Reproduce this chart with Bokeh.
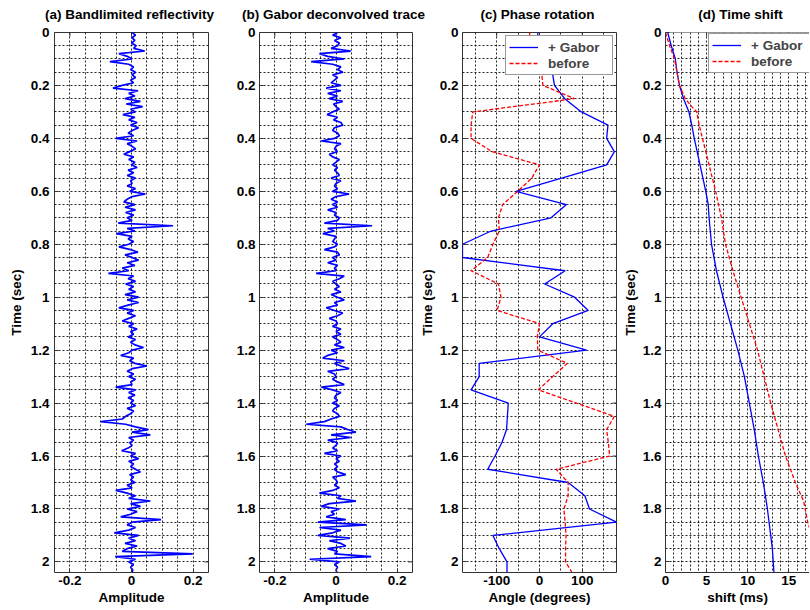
import numpy as np
from bokeh.plotting import figure
from bokeh.layouts import row, column
from bokeh.models import (Range1d, FixedTicker, SingleIntervalTicker, NumeralTickFormatter,
                          Legend, LegendItem, Label, Span)
from bokeh.embed import file_html
from bokeh.resources import INLINE

# ---------------- data ----------------
# (a) band-limited reflectivity, sampled every 0.01 s from 0 to 2.04 s
trace_time = np.round(np.arange(205) * 0.01, 2)
refl_a = [
    0.002, 0.013, 0.002, 0.011, 0.000, 0.015, 0.007, 0.043, -0.041, -0.014,
    0.002, -0.070, -0.009, 0.007, -0.003, 0.013, 0.002, 0.013, -0.003, 0.007,
    -0.030, -0.060, 0.021, -0.009, 0.011, -0.021, 0.029, -0.017, 0.036, -0.003,
    0.013, -0.028, 0.011, -0.009, 0.018, -0.003, 0.023, 0.002, -0.011, 0.007,
    -0.051, 0.018, -0.014, 0.002, 0.013, -0.006, -0.025, 0.007, -0.009, 0.011,
    0.000, 0.018, -0.011, 0.007, -0.014, 0.013, -0.003, 0.002, -0.014, 0.013,
    -0.006, 0.045, 0.002, -0.014, -0.025, 0.011, -0.021, 0.013, -0.019, 0.007,
    -0.014, 0.002, -0.043, 0.135, -0.014, 0.011, -0.049, 0.002, -0.011, 0.007,
    -0.009, -0.041, -0.003, 0.021, -0.021, 0.002, 0.023, -0.014, 0.011, -0.030,
    -0.009, -0.075, 0.007, -0.011, 0.013, -0.019, 0.007, -0.009, 0.013, -0.021,
    0.023, -0.014, 0.023, -0.011, -0.041, 0.007, -0.014, 0.013, -0.009, -0.030,
    0.007, -0.009, 0.018, -0.003, 0.007, -0.011, 0.013, -0.003, 0.011, 0.039,
    0.002, -0.009, -0.035, 0.007, -0.006, 0.011, 0.050, 0.002, -0.014, 0.007,
    -0.009, 0.013, -0.003, 0.002, -0.051, 0.013, -0.009, 0.011, -0.011, 0.007,
    -0.003, 0.013, -0.014, 0.007, -0.003, -0.019, -0.030, -0.099, -0.019, 0.013,
    0.055, 0.002, 0.061, -0.009, 0.007, -0.006, 0.002, -0.011, -0.032, 0.013,
    -0.003, 0.023, -0.009, 0.007, -0.003, 0.013, 0.029, -0.006, 0.007, -0.003,
    0.011, -0.014, 0.002, -0.051, -0.014, 0.013, -0.009, 0.061, -0.003, 0.029,
    -0.014, 0.018, -0.003, -0.035, 0.096, 0.002, -0.014, 0.013, -0.009, -0.056,
    0.023, -0.009, 0.013, -0.021, 0.018, -0.014, -0.030, 0.199, -0.053, 0.013,
    -0.009, 0.007, -0.003, 0.004, 0.002,
]
# (b) Gabor deconvolved trace
decon_b = [
    0.005, -0.011, 0.016, -0.005, 0.011, 0.005, -0.016, 0.048, -0.054, -0.027,
    0.027, -0.081, -0.011, 0.016, 0.005, 0.022, -0.011, 0.005, -0.005, -0.016,
    0.016, -0.032, 0.016, -0.027, 0.005, -0.022, 0.022, -0.008, 0.000, 0.011,
    -0.011, -0.029, 0.005, -0.008, 0.016, 0.022, -0.005, -0.011, 0.005, 0.011,
    -0.005, -0.048, 0.016, 0.000, -0.005, 0.005, -0.022, -0.011, 0.011, 0.000,
    -0.011, 0.005, -0.005, 0.005, 0.011, -0.016, 0.016, 0.000, -0.005, 0.005,
    -0.011, 0.043, 0.000, -0.016, 0.005, -0.011, 0.005, -0.027, 0.000, -0.005,
    0.011, 0.005, -0.038, 0.118, -0.027, -0.005, -0.043, 0.000, -0.005, -0.011,
    0.005, -0.005, -0.038, 0.005, 0.011, -0.011, 0.000, -0.027, 0.005, -0.005,
    0.000, -0.065, 0.027, 0.011, -0.011, 0.000, 0.011, -0.005, 0.016, -0.016,
    0.005, 0.027, -0.005, 0.005, -0.032, -0.005, 0.022, 0.005, -0.022, 0.000,
    0.005, -0.011, 0.016, 0.000, 0.016, -0.011, 0.005, 0.016, -0.005, 0.027,
    -0.016, 0.005, -0.027, -0.043, 0.027, -0.005, 0.016, 0.043, -0.027, -0.005,
    0.000, -0.011, 0.005, 0.027, -0.048, -0.011, 0.016, 0.000, -0.005, 0.005,
    -0.011, 0.011, -0.005, -0.011, 0.005, 0.011, -0.016, -0.038, -0.097, 0.016,
    0.038, 0.065, -0.016, 0.048, -0.027, 0.005, 0.000, -0.011, 0.005, -0.038,
    0.016, 0.000, 0.011, -0.005, 0.005, -0.005, 0.005, 0.032, -0.011, 0.000,
    0.005, -0.005, 0.011, -0.011, -0.054, 0.016, 0.005, 0.065, -0.022, -0.048,
    0.011, -0.016, -0.005, -0.032, 0.032, -0.059, 0.100, -0.054, 0.016, -0.011,
    -0.059, 0.046, -0.022, 0.016, 0.032, -0.027, 0.005, -0.005, 0.115, -0.086,
    0.011, -0.005, 0.005, 0.000, 0.003,
]

# (c) phase rotation (degrees)
phase_time = [0.00, 0.05, 0.10, 0.15, 0.20, 0.25, 0.30, 0.35, 0.40, 0.45,
              0.50, 0.55, 0.60, 0.65, 0.70, 0.75, 0.80, 0.85, 0.90, 0.95,
              1.00, 1.05, 1.10, 1.15, 1.20, 1.25, 1.30, 1.35, 1.40, 1.45,
              1.50, 1.55, 1.60, 1.65, 1.70, 1.75, 1.80, 1.85, 1.90, 1.95,
              2.00, 2.04]
phase_gabor = [-4, -4, 5, 30, 35, 59, 98, 160, 157, 175,
               157, 52, -55, 63, 27, -113, -180, -180, 60, 12,
               82, 114, 31, 0, 110, -141, -141, -160, -73, -75,
               -77, -88, -104, -121, 67, 106, 117, 180, -109, -94,
               -76, -76]
phase_before = [-23, -23, -23, 5, 8, 82, -156, -160, -160, -111,
                0, -18, -51, -86, -96, -94, -109, -121, -160, -96,
                -90, -99, 0, -5, -4, 65, 31, -3, 86, 175,
                157, 161, 164, 39, 67, 67, 57, 60, 62, 61,
                61, 76]

# (d) time shift (ms)
shift_time_gabor = [0.00, 0.05, 0.10, 0.15, 0.20, 0.25, 0.30, 0.35, 0.40, 0.45,
                    0.50, 0.60, 0.65, 0.70, 0.80, 0.90, 1.00, 1.10, 1.20, 1.30,
                    1.40, 1.50, 1.60, 1.70, 1.80, 1.85, 1.90, 1.95, 2.04]
shift_gabor = [0.27, 0.7, 1.2, 1.4, 1.7, 2.2, 2.85, 3.2, 3.5, 3.85,
               4.2, 4.9, 5.2, 5.3, 5.6, 6.2, 7.0, 7.9, 8.8, 9.6,
               10.2, 10.8, 11.3, 11.9, 12.4, 12.6, 12.8, 13.0, 13.2]
shift_time_before = [0.00, 0.05, 0.10, 0.15, 0.20, 0.25, 0.28, 0.30, 0.35, 0.40,
                     0.45, 0.50, 0.60, 0.70, 0.80, 0.90, 1.00, 1.10, 1.20, 1.30,
                     1.40, 1.50, 1.60, 1.70, 1.77, 1.80, 1.85, 1.90, 2.04]
shift_before = [0.0, 0.5, 1.1, 1.4, 1.7, 2.4, 3.2, 3.8, 4.1, 4.5,
                4.9, 5.3, 6.1, 6.8, 7.3, 8.2, 9.2, 10.2, 11.2, 12.0,
                12.8, 13.7, 14.6, 15.8, 16.8, 17.0, 17.3, 17.8, 18.5]

titles = ["(a) Bandlimited reflectivity", "(b) Gabor deconvolved trace",
          "(c) Phase rotation", "(d) Time shift"]
y_ticks = [0, 0.2, 0.4, 0.6, 0.8, 1.0, 1.2, 1.4, 1.6, 1.8, 2.0]
amp_ticks = [-0.2, 0, 0.2]
angle_ticks = [-100, 0, 100]
shift_ticks = [0, 5, 10, 15]

# ---------------- styling ----------------
FONT = "Liberation Sans"
FS = "13.5px"
FRAME = "#333333"
TITLE_H = 26
PANEL_H = 610 - TITLE_H
TOP = 32 - TITLE_H
BOTTOM = 38


def style_axis(ax, standoff, label_standoff):
    ax.major_tick_in = 4
    ax.major_tick_out = 0
    ax.minor_tick_in = 0
    ax.minor_tick_out = 0
    ax.major_tick_line_color = FRAME
    ax.axis_line_color = None
    ax.major_label_text_font = FONT
    ax.major_label_text_font_size = FS
    ax.major_label_text_font_style = "bold"
    ax.major_label_text_color = "black"
    ax.major_label_standoff = standoff
    ax.axis_label_standoff = label_standoff
    ax.axis_label_text_font = FONT
    ax.axis_label_text_font_size = FS
    ax.axis_label_text_font_style = "bold"
    ax.axis_label_text_color = "black"


def make_panel(width, left, right, xr, xticks, xgrid, xlabel, ylabel,
               ystand=5, ylab_stand=4, cut_right=False):
    p = figure(width=width, height=PANEL_H, output_backend="svg", toolbar_location=None,
               x_range=Range1d(*xr), y_range=Range1d(2.04, 0),
               min_border_left=left, min_border_right=right,
               min_border_top=TOP, min_border_bottom=BOTTOM,
               background_fill_color="white", border_fill_color="white")
    p.xaxis.ticker = FixedTicker(ticks=xticks)
    p.xaxis.formatter = NumeralTickFormatter(format="0.[0]")
    p.xaxis.axis_label = xlabel
    p.yaxis.ticker = FixedTicker(ticks=y_ticks)
    p.yaxis.formatter = NumeralTickFormatter(format="0.[0]")
    p.yaxis.axis_label = ylabel
    style_axis(p.xaxis[0], 3, 2)
    style_axis(p.yaxis[0], ystand, ylab_stand)

    # inward ticks on the top edge (and on the right edge), as in a boxed axes
    p.ray(x=xticks, y=0, length=4, length_units="screen", angle=-np.pi / 2,
          line_color=FRAME, line_width=1)
    if not cut_right:
        p.ray(x=xr[1], y=y_ticks, length=4, length_units="screen", angle=np.pi,
              line_color=FRAME, line_width=1)
        p.outline_line_color = FRAME
    else:
        p.outline_line_color = None
        p.yaxis.axis_line_color = FRAME
        p.xaxis.axis_line_color = FRAME
        p.add_layout(Span(location=0, dimension="width", line_color=FRAME, line_width=1))

    p.xgrid.ticker = SingleIntervalTicker(interval=xgrid, num_minor_ticks=0)
    p.ygrid.ticker = SingleIntervalTicker(interval=0.05, num_minor_ticks=0)
    for g in (p.xgrid[0], p.ygrid[0]):
        g.grid_line_color = "black"
        g.grid_line_alpha = 0.85
        g.grid_line_dash = "2 2"
        g.grid_line_width = 1
    return p


def add_legend(p, r1, r2, location):
    leg = Legend(items=[LegendItem(label="+ Gabor", renderers=[r1]),
                        LegendItem(label="before", renderers=[r2])],
                 location=location)
    leg.label_text_font = FONT
    leg.label_text_font_size = FS
    leg.label_text_font_style = "bold"
    leg.border_line_color = FRAME
    leg.border_line_width = 1
    leg.background_fill_color = "white"
    leg.background_fill_alpha = 1.0
    leg.glyph_width = 29
    leg.glyph_height = 16
    leg.label_standoff = 10
    leg.label_width = 61
    leg.label_height = 16
    leg.padding = 3
    leg.spacing = 0
    leg.margin = 3
    p.add_layout(leg)


# title strip (titles may run past a panel's own width, as in the original)
tf = figure(width=810, height=TITLE_H, output_backend="svg", toolbar_location=None,
            x_range=Range1d(0, 810), y_range=Range1d(0, TITLE_H), min_border=0,
            x_axis_type=None, y_axis_type=None, outline_line_color=None,
            background_fill_color="white", border_fill_color="white")
tf.xgrid.visible = False
tf.ygrid.visible = False
for text, cx in zip(titles, [129, 333, 537, 740]):
    tf.add_layout(Label(x=cx, y=12, x_units="screen", y_units="screen", text=text,
                        text_align="center", text_baseline="alphabetic", text_font=FONT,
                        text_font_size=FS, text_font_style="bold", text_color="black"))

pa = make_panel(233, 54, 25, (-0.25, 0.25), amp_ticks, 0.05, "Amplitude", "Time (sec)")
pa.line(refl_a, trace_time, line_color="#0000ff", line_width=1.7)

pb = make_panel(183, 25, 4, (-0.25, 0.25), amp_ticks, 0.05, "Amplitude", None, ystand=4)
pb.line(decon_b, trace_time, line_color="#0000ff", line_width=1.7)

pc = make_panel(203, 46, 3, (-180, 180), angle_ticks, 50, "Angle (degrees)", "Time (sec)",
                ystand=4, ylab_stand=2)
c1 = pc.line(phase_gabor, phase_time, line_color="#0000ff", line_width=1.3)
c2 = pc.line(phase_before, phase_time, line_color="#ff0000", line_width=1.3, line_dash="4 2")
add_legend(pc, c1, c2, "top_right")

pd_ = make_panel(190, 46, 0, (0, 17.52), shift_ticks, 1, "shift (ms)", "Time (sec)",
                 ystand=4, ylab_stand=2, cut_right=True)
d1 = pd_.line(shift_gabor, shift_time_gabor, line_color="#0000ff", line_width=1.3)
d2 = pd_.line(shift_before, shift_time_before, line_color="#ff0000", line_width=1.3, line_dash="4 2")
add_legend(pd_, d1, d2, (43, 499))

layout = column(tf, row(pa, pb, pc, pd_, spacing=0), spacing=0)
open("out.html", "w").write(file_html(layout, INLINE))
